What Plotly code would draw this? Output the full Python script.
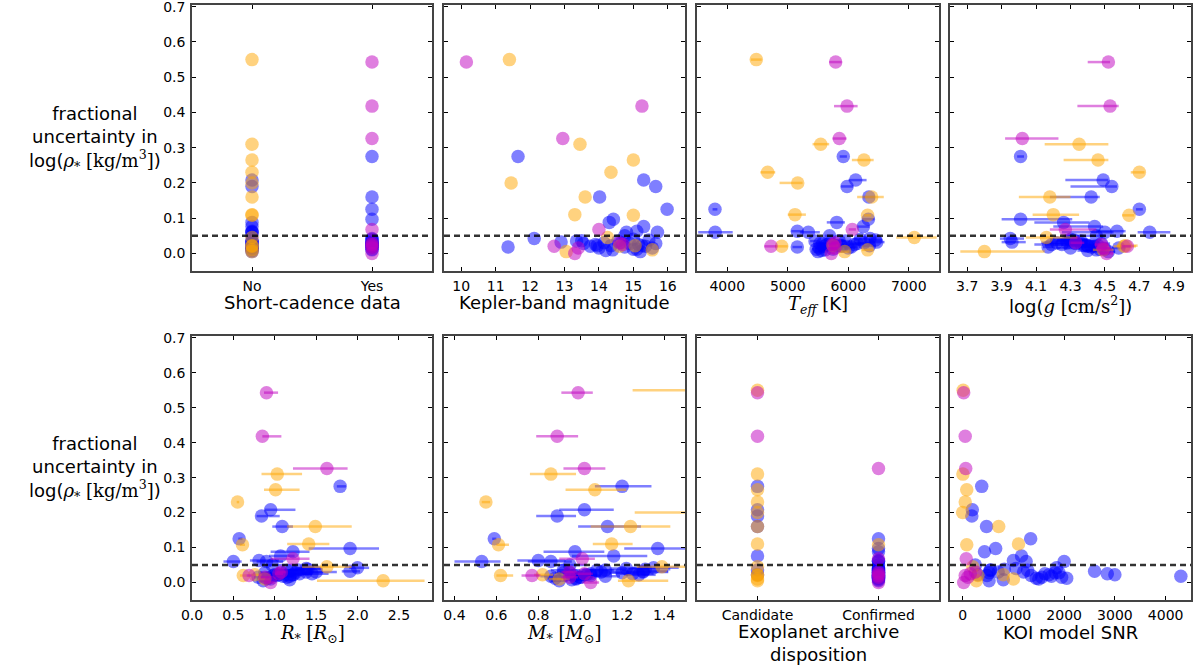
import plotly.graph_objects as go

# ---------------------------------------------------------------------------
# Per-star table, one list per column (same order in every list)
# 13 stars in the orange sample, 9 in the magenta sample, 40 in the blue sample
# ---------------------------------------------------------------------------
group = ["orange"] * 13 + ["magenta"] * 9 + ["blue"] * 40

frac_unc = [
    0.550, 0.310, 0.265, 0.230, 0.200, 0.160, 0.110, 0.108, 0.045, 0.020, 0.005, 0.010, 0.022,
    0.543, 0.418, 0.326, 0.068, 0.020, 0.000, 0.015, 0.030, 0.025,
    0.275, 0.208, 0.190, 0.160, 0.125, 0.097, 0.088, 0.060, 0.076, 0.063, 0.060, 0.050, 0.042, 0.032, 0.018,
    0.035, 0.028, 0.020, 0.025, 0.015, 0.030, 0.022, 0.010, 0.035, 0.018, 0.028, 0.040, 0.012,
    0.025, 0.005, 0.022, 0.020, 0.038, 0.015, 0.028, 0.008, 0.022, 0.030, 0.012, 0.036,
]

short_cadence = (
    ["No"] * 13 + ["Yes"] * 9
    + ["Yes", "No", "No", "Yes", "Yes", "Yes", "No", "No", "No", "No", "No", "No", "Yes", "Yes", "Yes"]
    + ["No", "Yes"] * 12 + ["No"]
)

kepmag = [
    11.40, 13.45, 15.00, 14.35, 11.45, 13.60, 13.30, 15.00, 14.25, 14.60, 13.05, 15.55, 15.05,
    10.15, 15.25, 12.95, 14.00, 12.70, 13.30, 13.40, 14.60, 14.70,
    11.65, 15.30, 15.65, 14.02, 15.98, 14.42, 14.30, 15.70, 15.30, 15.10, 14.80, 14.75, 12.12, 12.90, 11.36,
    13.35, 13.55, 13.75, 13.90, 14.00, 14.15, 14.35, 14.40, 14.55, 14.75, 14.90, 15.00, 15.10,
    15.15, 15.20, 15.25, 15.35, 15.45, 15.55, 15.65, 14.20, 13.95, 14.65, 15.00, 13.50,
]

teff = [
    4480, 5545, 6260, 4668, 5165, 6387, 5120, 6320, 7092, 4900, 5940, 6320, 5750,
    5792, 5980, 5852, 6067, 4723, 5720, 5780, 5780, 5740,
    5918, 6123, 5980, 6340, 3797, 6332, 5810, 3800, 6250, 5158, 5340, 5690, 6360, 6470, 5158,
    5450, 5530, 5600, 5650, 5520, 5700, 5880, 5620, 5950, 6050, 5580, 6200, 5750,
    6100, 5500, 6350, 5900, 6450, 6000, 6150, 5560, 5810, 6260, 5470, 5850,
]
teff_lo = [
    90, 135, 200, 120, 300, 240, 120, 60, 300, 110, 80, 90, 80,
    105, 215, 110, 60, 110, 60, 60, 60, 60,
    60, 120, 100, 100, 40, 100, 165, 280, 100, 100, 140, 80, 100, 120, 80,
    80, 70, 90, 70, 60, 90, 70, 60, 80, 90, 70, 100, 60,
    90, 70, 100, 80, 110, 70, 90, 60, 70, 100, 70, 90,
]
teff_hi = [
    90, 140, 160, 125, 80, 200, 180, 60, 370, 100, 80, 90, 80,
    100, 175, 120, 60, 90, 60, 60, 60, 60,
    60, 180, 100, 100, 40, 100, 135, 290, 100, 100, 190, 80, 100, 130, 80,
    80, 70, 90, 70, 60, 90, 70, 60, 80, 90, 70, 100, 60,
    90, 70, 100, 80, 110, 70, 90, 60, 70, 100, 70, 90,
]

logg = [
    3.35, 4.35, 4.46, 4.70, 3.30, 4.18, 4.20, 4.64, 4.16, 4.61, 3.80, 4.49, 4.62,
    4.52, 4.53, 4.02, 4.27, 4.63, 4.51, 4.49, 4.33, 4.48,
    4.01, 4.49, 4.54, 4.42, 4.70, 4.01, 4.26, 4.76, 4.44, 4.57, 4.50, 4.45, 3.95, 3.96, 4.17,
    4.28, 4.33, 4.40, 4.19, 4.30, 4.22, 4.38, 4.45, 4.36, 4.42, 4.48, 4.30, 4.50,
    4.25, 4.52, 4.40, 4.44, 4.32, 4.58, 4.36, 4.40, 4.46, 4.28, 4.47, 4.30,
]
logg_lo = [
    0.10, 0.20, 0.20, 0.05, 0.10, 0.18, 0.12, 0.04, 0.12, 0.06, 0.14, 0.06, 0.05,
    0.12, 0.19, 0.10, 0.09, 0.03, 0.04, 0.04, 0.03, 0.04,
    0.02, 0.22, 0.24, 0.24, 0.02, 0.11, 0.17, 0.07, 0.24, 0.12, 0.25, 0.15, 0.06, 0.06, 0.03,
    0.10, 0.06, 0.07, 0.10, 0.08, 0.09, 0.07, 0.06, 0.10, 0.07, 0.05, 0.12, 0.05,
    0.10, 0.05, 0.08, 0.06, 0.10, 0.04, 0.08, 0.06, 0.05, 0.10, 0.05, 0.08,
]
logg_hi = [
    0.10, 0.17, 0.06, 0.03, 0.10, 0.12, 0.15, 0.03, 0.18, 0.07, 0.35, 0.06, 0.07,
    0.01, 0.05, 0.21, 0.18, 0.02, 0.04, 0.04, 0.05, 0.04,
    0.02, 0.03, 0.03, 0.05, 0.02, 0.30, 0.15, 0.12, 0.05, 0.05, 0.05, 0.05, 0.08, 0.08, 0.03,
    0.08, 0.06, 0.06, 0.12, 0.07, 0.10, 0.06, 0.05, 0.08, 0.06, 0.05, 0.10, 0.04,
    0.10, 0.04, 0.07, 0.05, 0.10, 0.04, 0.07, 0.05, 0.05, 0.12, 0.05, 0.10,
]

rstar = [
    4.60, 1.03, 1.01, 0.55, 4.80, 1.49, 1.41, 0.61, 1.63, 0.62, 2.31, 0.88, 0.76,
    0.90, 0.85, 1.63, 1.22, 0.69, 0.95, 0.88, 1.08, 1.05,
    1.79, 0.95, 0.84, 1.09, 0.57, 1.91, 1.22, 0.50, 1.07, 0.81, 0.90, 0.97, 2.00, 1.91, 1.18,
    1.15, 1.08, 0.98, 1.30, 1.15, 1.38, 1.05, 0.95, 1.20, 1.10, 0.88, 1.38, 0.92,
    1.45, 0.86, 1.22, 1.02, 1.40, 0.80, 1.25, 1.18, 1.00, 1.50, 0.90, 1.28,
]
rstar_lo = [
    0.80, 0.19, 0.14, 0.01, 0.80, 0.34, 0.26, 0.03, 0.30, 0.04, 0.80, 0.06, 0.05,
    0.03, 0.00, 0.41, 0.27, 0.03, 0.05, 0.05, 0.06, 0.05,
    0.04, 0.07, 0.06, 0.12, 0.01, 0.50, 0.27, 0.12, 0.14, 0.11, 0.12, 0.08, 0.10, 0.10, 0.05,
    0.10, 0.08, 0.08, 0.12, 0.10, 0.10, 0.08, 0.06, 0.10, 0.08, 0.06, 0.14, 0.05,
    0.12, 0.05, 0.10, 0.06, 0.12, 0.05, 0.10, 0.06, 0.06, 0.12, 0.05, 0.10,
]
rstar_hi = [
    0.80, 0.30, 0.29, 0.02, 0.80, 0.44, 0.25, 0.03, 0.30, 0.04, 0.50, 0.06, 0.05,
    0.14, 0.23, 0.25, 0.20, 0.03, 0.05, 0.05, 0.06, 0.05,
    0.07, 0.30, 0.22, 0.13, 0.04, 0.35, 0.20, 0.10, 0.17, 0.24, 0.20, 0.15, 0.14, 0.12, 0.05,
    0.15, 0.10, 0.10, 0.15, 0.12, 0.20, 0.12, 0.08, 0.15, 0.10, 0.08, 0.18, 0.06,
    0.20, 0.06, 0.14, 0.08, 0.18, 0.06, 0.14, 0.08, 0.08, 0.25, 0.07, 0.16,
]

mstar = [
    1.65, 0.86, 1.07, 0.55, 1.75, 1.24, 1.15, 0.61, 1.39, 0.62, 1.23, 0.90, 0.82,
    0.99, 0.89, 1.02, 1.01, 0.77, 1.05, 0.95, 0.95, 1.02,
    1.20, 1.02, 0.89, 1.13, 0.59, 1.37, 0.975, 0.53, 1.16, 0.80, 0.86, 0.95, 1.35, 1.30, 0.86,
    0.92, 0.95, 0.97, 1.05, 1.00, 1.10, 1.02, 0.98, 1.08, 1.12, 0.92, 1.22, 0.98,
    1.25, 0.90, 1.28, 1.05, 1.31, 1.00, 1.20, 0.96, 1.03, 1.30, 0.88, 1.12,
]
mstar_lo = [
    0.40, 0.10, 0.14, 0.02, 0.49, 0.19, 0.09, 0.01, 0.12, 0.02, 0.05, 0.05, 0.04,
    0.08, 0.10, 0.10, 0.11, 0.05, 0.04, 0.04, 0.04, 0.04,
    0.13, 0.12, 0.10, 0.14, 0.01, 0.16, 0.15, 0.13, 0.20, 0.10, 0.11, 0.08, 0.10, 0.10, 0.05,
    0.06, 0.05, 0.05, 0.06, 0.05, 0.08, 0.05, 0.04, 0.07, 0.06, 0.04, 0.08, 0.04,
    0.08, 0.04, 0.07, 0.05, 0.08, 0.04, 0.06, 0.04, 0.04, 0.08, 0.04, 0.08,
]
mstar_hi = [
    0.30, 0.12, 0.15, 0.02, 0.30, 0.19, 0.10, 0.05, 0.15, 0.06, 0.19, 0.05, 0.05,
    0.07, 0.10, 0.10, 0.06, 0.04, 0.04, 0.04, 0.04, 0.04,
    0.14, 0.14, 0.09, 0.16, 0.01, 0.15, 0.14, 0.09, 0.16, 0.13, 0.10, 0.08, 0.12, 0.12, 0.05,
    0.08, 0.06, 0.07, 0.10, 0.06, 0.10, 0.06, 0.05, 0.08, 0.07, 0.05, 0.10, 0.05,
    0.10, 0.04, 0.08, 0.05, 0.12, 0.04, 0.08, 0.05, 0.05, 0.12, 0.05, 0.10,
]

disposition = (
    ["Candidate"] * 7 + ["Confirmed"] + ["Candidate"] * 5
    + ["Candidate", "Candidate"] + ["Confirmed"] * 7
    + ["Candidate"] * 4 + ["Confirmed"] * 4 + ["Candidate"] + ["Confirmed"] * 6
    + ["Confirmed"] * 21 + ["Candidate", "Confirmed", "Confirmed", "Candidate"]
)

koi_snr = [
    10, 5, 80, 50, 0, 710, 1100, 80, 200, 300, 270, 1000, 800,
    20, 50, 60, 70, 50, 20, 100, 250, 150,
    375, 190, 180, 470, 1340, 650, 430, 2000, 1160, 1000, 1250, 250, 1850, 2600, 4300,
    540, 520, 480, 1620, 1560, 1200, 1700, 1500, 1280, 1750, 1900, 1050, 2050,
    2850, 520, 3000, 1350, 820, 1950, 1820, 800, 300, 700, 1450, 550,
]

# ---------------------------------------------------------------------------
# Styling
# ---------------------------------------------------------------------------
group_order = ["blue", "orange", "magenta"]
group_rgba = {
    "blue": "rgba(0,0,255,0.5)",
    "orange": "rgba(255,165,0,0.5)",
    "magenta": "rgba(191,0,191,0.5)",
}

SANS = "DejaVu Sans, sans-serif"
SERIF = "DejaVu Serif, serif"


def math(s):
    return f'<span style="font-family:{SERIF}">{s}</span>'


# panel: (x values, x err minus, x err plus, x range, tick values, title, kind, title offset)
panels = [
    (short_cadence, None, None, [-0.5, 1.5], ["No", "Yes"],
     "Short-cadence data", "cat", 31),
    (kepmag, None, None, [9.5, 16.5], list(range(10, 17)),
     "Kepler-band magnitude", "num", 31),
    (teff, teff_lo, teff_hi, [3500, 7500], [4000, 5000, 6000, 7000],
     math("<i>T</i><sub><i>eff</i></sub>") + " [K]", "num", 34),
    (logg, logg_lo, logg_hi, [3.6, 5.0], [3.7, 3.9, 4.1, 4.3, 4.5, 4.7, 4.9],
     "log(" + math("<i>g</i> [cm/s<sup>2</sup>]") + ")", "num", 34),
    (rstar, rstar_lo, rstar_hi, [0.0, 2.9], [0.0, 0.5, 1.0, 1.5, 2.0, 2.5],
     math("<i>R</i><sub>*</sub> [<i>R</i><sub>⊙</sub>]"), "num", 34),
    (mstar, mstar_lo, mstar_hi, [0.35, 1.5], [0.4, 0.6, 0.8, 1.0, 1.2, 1.4],
     math("<i>M</i><sub>*</sub> [<i>M</i><sub>⊙</sub>]"), "num", 34),
    (disposition, None, None, [-0.5, 1.5], ["Candidate", "Confirmed"],
     "Exoplanet archive<br>disposition", "cat", 43),
    (koi_snr, None, None, [-250, 4500], [0, 1000, 2000, 3000, 4000],
     "KOI model SNR", "num", 32),
]

W, H = 1194, 666
col_px = [(192, 432), (444, 685), (697, 939), (950, 1191)]
row_px = [(5, 271), (336, 600)]

fig = go.Figure()
layout = dict(
    width=W, height=H,
    margin=dict(l=0, r=0, t=0, b=0),
    paper_bgcolor="white", plot_bgcolor="white",
    showlegend=False,
    font=dict(family=SANS, size=14, color="black"),
)
annotations = []
shapes = []

for p, (xv, xlo, xhi, xr, tv, title, kind, toff) in enumerate(panels):
    idx = p + 1
    r, c = divmod(p, 4)
    x0, x1 = col_px[c]
    y0, y1 = row_px[r]
    xs = "" if idx == 1 else str(idx)

    for g in group_order:
        sel = [i for i, gg in enumerate(group) if gg == g]
        tr = dict(
            x=[xv[i] for i in sel],
            y=[frac_unc[i] for i in sel],
            mode="markers",
            marker=dict(size=13.5, color=group_rgba[g], line=dict(width=0)),
            xaxis=f"x{xs}", yaxis=f"y{xs}",
            hoverinfo="skip",
        )
        if xlo is not None:
            tr["error_x"] = dict(
                type="data", symmetric=False,
                array=[xhi[i] for i in sel],
                arrayminus=[xlo[i] for i in sel],
                color=group_rgba[g], thickness=2.5, width=0,
            )
        fig.add_trace(go.Scatter(**tr))

    xa = dict(
        domain=[x0 / W, x1 / W], range=xr, anchor=f"y{xs}",
        showgrid=False, zeroline=False,
        showline=True, linecolor="#444", linewidth=1.5, mirror="ticks",
        ticks="inside", ticklen=4, tickwidth=1, tickcolor="black",
        tickfont=dict(size=14), ticklabelstandoff=1,
        ticklabeloverflow="allow",
        automargin=False,
    )
    if kind == "cat":
        xa.update(type="category", categoryorder="array", categoryarray=tv)
    else:
        xa.update(tickvals=tv,
                  ticktext=[f"{v:d}" if isinstance(v, int) else f"{v:.1f}" for v in tv])
    layout[f"xaxis{xs}"] = xa

    ya = dict(
        domain=[1 - y1 / H, 1 - y0 / H], range=[-0.05, 0.705], anchor=f"x{xs}",
        showgrid=False, zeroline=False,
        showline=True, linecolor="#444", linewidth=1.5, mirror="ticks",
        ticks="inside", ticklen=4, tickwidth=1, tickcolor="black",
        tickvals=[0.0, 0.1, 0.2, 0.3, 0.4, 0.5, 0.6, 0.7],
        ticktext=["0.0", "0.1", "0.2", "0.3", "0.4", "0.5", "0.6", "0.7"],
        showticklabels=(c == 0),
        tickfont=dict(size=14), ticklabelstandoff=2,
        ticklabeloverflow="allow",
        automargin=False,
    )
    layout[f"yaxis{xs}"] = ya

    # reference level at 0.05
    shapes.append(dict(
        type="line", xref=f"x{xs} domain", x0=0, x1=1,
        yref=f"y{xs}", y0=0.05, y1=0.05,
        line=dict(color="rgba(0,0,0,0.8)", width=2.5, dash="6px,4px"),
    ))

    # axis title below the tick labels
    annotations.append(dict(
        text=title, xref="paper", yref="paper",
        x=(x0 + x1) / 2 / W, y=1 - (y1 + toff) / H,
        xanchor="center", yanchor="middle", showarrow=False,
        font=dict(size=18, family=SANS), align="center",
    ))

# shared y label for each row
ylabel = ("fractional<br>uncertainty in<br>log(" +
          math("<i>ρ</i><sub>*</sub> [kg/m<sup>3</sup>]") + ")")
for (y0, y1) in row_px:
    annotations.append(dict(
        text=ylabel, xref="paper", yref="paper",
        x=95 / W, y=1 - (y0 + y1) / 2 / H,
        xanchor="center", yanchor="middle", showarrow=False,
        font=dict(size=18, family=SANS), align="center",
    ))

layout["annotations"] = annotations
layout["shapes"] = shapes
fig.update_layout(**layout)

fig.write_html("out.html")
